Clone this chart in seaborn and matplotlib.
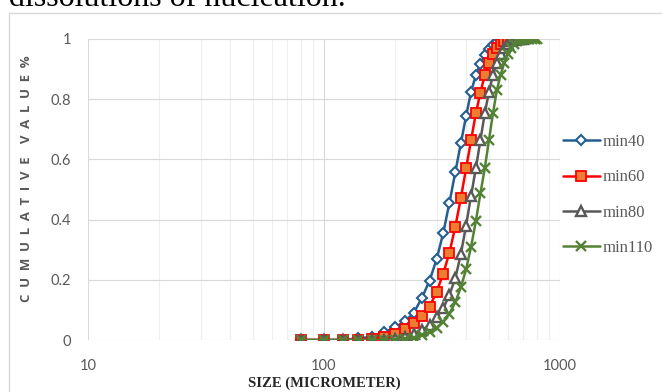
import matplotlib
matplotlib.use("Agg")
import matplotlib.pyplot as plt
import matplotlib.patches as patches
from matplotlib.ticker import FixedLocator, FixedFormatter, LogLocator, NullFormatter
import seaborn as sns
import pandas as pd

# sieve sizes (micrometer)
sizes = list(range(80, 801, 20))

# cumulative fractions per residence time
min40 = [0, 0, 0, 0.005, 0.011, 0.025, 0.042, 0.062, 0.09, 0.14, 0.197, 0.268,
         0.355, 0.456, 0.557, 0.653, 0.744, 0.825, 0.88, 0.918, 0.947, 0.967,
         0.98, 0.99, 0.996, 1.0, 1.0]
min60 = [0, 0, 0, 0, 0.003, 0.01, 0.02, 0.035, 0.055, 0.08, 0.11, 0.16, 0.22,
         0.29, 0.376, 0.471, 0.57, 0.664, 0.753, 0.822, 0.88, 0.92, 0.95, 0.97,
         0.985, 0.993, 0.998, 1.0, 1.0]
min80 = [0, 0, 0, 0, 0, 0, 0.004, 0.01, 0.02, 0.033, 0.05, 0.075, 0.105, 0.15,
         0.205, 0.285, 0.38, 0.48, 0.57, 0.664, 0.753, 0.825, 0.88, 0.92, 0.95,
         0.97, 0.985, 0.993, 0.998, 1.0, 1.0, 1.0]
min110 = [0, 0, 0, 0, 0, 0, 0, 0.003, 0.008, 0.015, 0.025, 0.04, 0.06, 0.088,
          0.125, 0.175, 0.235, 0.31, 0.395, 0.487, 0.57, 0.664, 0.753, 0.83,
          0.88, 0.92, 0.95, 0.97, 0.985, 0.993, 0.997, 1.0, 1.0, 1.0, 1.0, 1.0,
          1.0]

series_names = ["min40", "min60", "min80", "min110"]
series_values = [min40, min60, min80, min110]

y_ticks = [0, 0.2, 0.4, 0.6, 0.8, 1.0]
y_tick_labels = ["0", "0.2", "0.4", "0.6", "0.8", "1"]
x_ticks = [10, 100, 1000]
x_tick_labels = ["10", "100", "1000"]

styles = {
    "min40": dict(color="#255E91", marker="D", markersize=5.4,
                  markerfacecolor="white", markeredgecolor="#255E91",
                  markeredgewidth=1.5),
    "min60": dict(color="#FF0000", marker="s", markersize=7,
                  markerfacecolor="#ED7D31", markeredgecolor="#FF0000",
                  markeredgewidth=1.3),
    "min80": dict(color="#595959", marker="^", markersize=7.2,
                  markerfacecolor="white", markeredgecolor="#595959",
                  markeredgewidth=1.7),
    "min110": dict(color="#548235", marker="x", markersize=7.2,
                   markeredgecolor="#548235", markeredgewidth=1.7),
}

sns.set_style("white")
plt.rcParams["font.family"] = ["Lato", "DejaVu Sans"]

W, H = 662, 392
fig = plt.figure(figsize=(W / 100, H / 100), dpi=100)

# outer chart frame
fig.add_artist(patches.Rectangle((8.5 / W, -0.1), 1.2, 1.1 - 13.5 / H,
                                 transform=fig.transFigure, fill=False,
                                 edgecolor="#D9D9D9", lw=1.0))

# caption line above the chart
fig.text(9 / W, 1 - 6 / H, "dissolutions of nucleation.",
         family=["Liberation Serif", "DejaVu Serif"], fontsize=23,
         color="black", va="baseline", ha="left")

left, right, top, bottom = 88, 560, 39, 340
ax = fig.add_axes([left / W, 1 - bottom / H, (right - left) / W,
                   (bottom - top) / H])

for name, vals in zip(series_names, series_values):
    df = pd.DataFrame({"size": sizes[:len(vals)], "value": vals})
    sns.lineplot(data=df, x="size", y="value", ax=ax, lw=1.8, label=name,
                 **styles[name])

ax.set_xscale("log")
ax.set_xlim(10, 1000)
ax.set_ylim(0, 1)
ax.xaxis.set_major_locator(FixedLocator(x_ticks))
ax.xaxis.set_major_formatter(FixedFormatter(x_tick_labels))
ax.xaxis.set_minor_locator(LogLocator(base=10, subs=range(2, 10)))
ax.xaxis.set_minor_formatter(NullFormatter())
ax.yaxis.set_major_locator(FixedLocator(y_ticks))
ax.yaxis.set_major_formatter(FixedFormatter(y_tick_labels))

ax.grid(which="major", axis="both", color="#D9D9D9", lw=0.8)
ax.grid(which="minor", axis="x", color="#EFEFEF", lw=0.8)
ax.set_axisbelow(True)
for s in ax.spines.values():
    s.set_visible(False)
ax.tick_params(axis="both", which="both", length=0, colors="#595959",
               labelsize=10.5)
ax.tick_params(axis="y", pad=12)
ax.tick_params(axis="x", pad=14)
ax.set_xlabel("")
ax.set_ylabel("")

fig.text(27 / W, 1 - 179 / H,
         "C\u2002U\u2002M\u2002U\u2002L\u2002A\u2002T\u2002I\u2002V\u2002E"
         "\u2002\u2002V\u2002A\u2002L\u2002U\u2002E\u2002%",
         rotation=90, ha="center", va="center", fontsize=9.5,
         fontweight="bold", color="#595959",
         family=["Open Sans", "DejaVu Sans"])

fig.text(324 / W, 1 - 383 / H, "SIZE (MICROMETER)",
         family=["Liberation Serif", "DejaVu Serif"], fontsize=10.5,
         fontweight="bold", color="#262626", ha="center", va="center")

handles, labels = ax.get_legend_handles_labels()
ax.legend(handles, labels, loc="center left",
          bbox_to_anchor=(563 / W, 1 - 195 / H),
          bbox_transform=fig.transFigure, frameon=False, numpoints=1,
          handlelength=2.2, handletextpad=0.2, labelspacing=1.15,
          borderpad=0, borderaxespad=0,
          prop={"family": ["Liberation Serif", "DejaVu Serif"], "size": 12},
          labelcolor="#595959")

fig.savefig("out.png", dpi=100)
